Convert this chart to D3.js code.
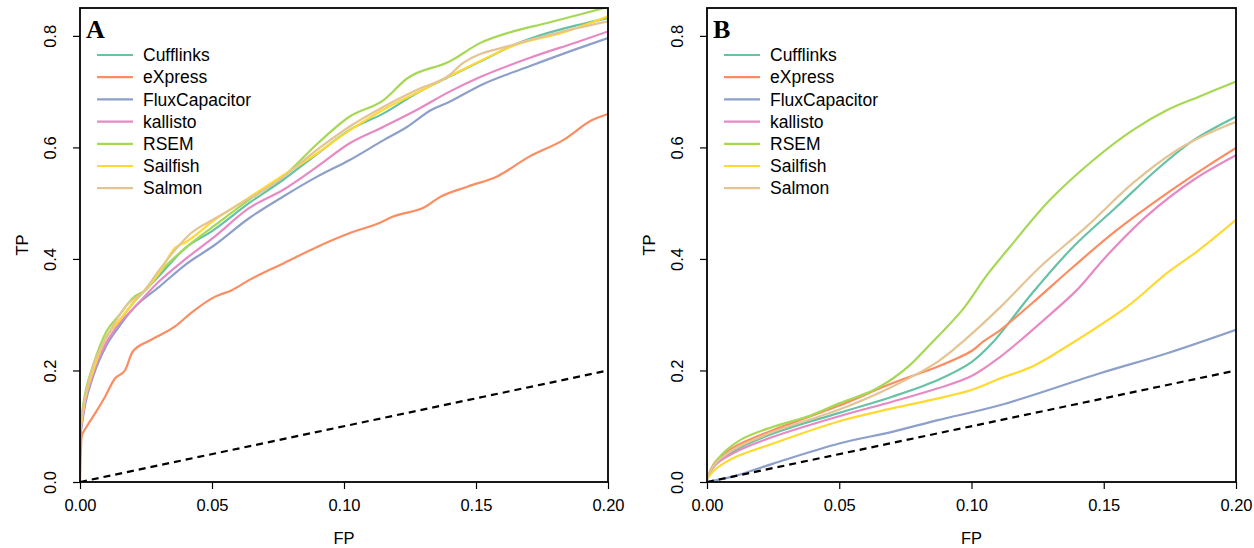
<!DOCTYPE html>
<html><head><meta charset="utf-8">
<script src="https://cdn.jsdelivr.net/npm/d3@7"></script>
<style>
body{margin:0;background:#fff;}
svg{display:block;font-family:"Liberation Sans",Arial,Helvetica,sans-serif;}
</style></head>
<body><svg id="chart" width="1254" height="548"></svg>
<script>
const methods = ["Cufflinks","eXpress","FluxCapacitor","kallisto","RSEM","Sailfish","Salmon"];
const colors = ["#66C2A5","#FC8D62","#8DA0CB","#E78AC3","#A6D854","#FFD92F","#E5C494"];
const xTicks = [0,0.05,0.10,0.15,0.20];
const yTicks = [0,0.2,0.4,0.6,0.8];
const panelLabels = ["A","B"];

// Panel A ROC points [FP, TP]
const cufflinksA = [[0,0.09],[0.002,0.15],[0.005,0.2],[0.01,0.26],[0.015,0.29],[0.02,0.32],[0.03,0.37],[0.04,0.42],[0.05,0.45],[0.064,0.5],[0.077,0.542],[0.09,0.589],[0.102,0.631],[0.115,0.661],[0.1275,0.697],[0.14,0.727],[0.152,0.755],[0.165,0.785],[0.177,0.805],[0.189,0.82],[0.2,0.832]];
const expressA = [[0,0],[0.0006,0.081],[0.0025,0.099],[0.0057,0.123],[0.0095,0.153],[0.0133,0.186],[0.017,0.2],[0.02,0.234],[0.027,0.255],[0.036,0.279],[0.042,0.303],[0.051,0.332],[0.0575,0.344],[0.064,0.362],[0.077,0.392],[0.09,0.422],[0.102,0.446],[0.1136,0.465],[0.1186,0.476],[0.131,0.494],[0.136,0.51],[0.147,0.53],[0.158,0.548],[0.17,0.583],[0.183,0.613],[0.194,0.649],[0.2,0.66]];
const fluxA = [[0,0.08],[0.002,0.14],[0.005,0.19],[0.01,0.245],[0.015,0.28],[0.02,0.31],[0.03,0.35],[0.04,0.39],[0.051,0.425],[0.064,0.473],[0.077,0.512],[0.09,0.548],[0.102,0.577],[0.115,0.613],[0.124,0.637],[0.133,0.667],[0.14,0.682],[0.152,0.712],[0.17,0.745],[0.189,0.778],[0.2,0.796]];
const kallistoA = [[0,0.085],[0.002,0.145],[0.005,0.195],[0.01,0.25],[0.015,0.285],[0.02,0.31],[0.03,0.36],[0.04,0.4],[0.051,0.44],[0.064,0.491],[0.077,0.524],[0.09,0.566],[0.102,0.607],[0.115,0.637],[0.1275,0.667],[0.14,0.7],[0.152,0.727],[0.17,0.76],[0.189,0.79],[0.2,0.808]];
const rsemA = [[0,0.1],[0.002,0.16],[0.005,0.21],[0.01,0.27],[0.015,0.3],[0.02,0.33],[0.025,0.345],[0.03,0.375],[0.04,0.42],[0.051,0.46],[0.064,0.506],[0.077,0.548],[0.09,0.607],[0.102,0.655],[0.115,0.685],[0.124,0.724],[0.14,0.754],[0.1515,0.787],[0.164,0.808],[0.177,0.823],[0.189,0.838],[0.2,0.852]];
const sailfishA = [[0,0.09],[0.002,0.15],[0.005,0.2],[0.01,0.26],[0.015,0.29],[0.02,0.32],[0.03,0.375],[0.036,0.42],[0.04,0.43],[0.051,0.47],[0.064,0.51],[0.077,0.55],[0.09,0.59],[0.102,0.63],[0.115,0.668],[0.1275,0.698],[0.14,0.728],[0.152,0.756],[0.164,0.782],[0.183,0.806],[0.2,0.835]];
const salmonA = [[0,0.1],[0.002,0.153],[0.0044,0.2],[0.0069,0.231],[0.0107,0.265],[0.0145,0.296],[0.0183,0.32],[0.0234,0.338],[0.03,0.38],[0.036,0.416],[0.042,0.446],[0.051,0.472],[0.061,0.5],[0.075,0.54],[0.0896,0.595],[0.102,0.637],[0.115,0.673],[0.1275,0.703],[0.14,0.73],[0.145,0.751],[0.164,0.784],[0.183,0.808],[0.2,0.826]];

// Panel B ROC points [FP, TP]
const cufflinksB = [[0,0.005],[0.003,0.03],[0.01,0.055],[0.025,0.087],[0.05,0.124],[0.07,0.153],[0.0873,0.183],[0.1,0.215],[0.108,0.25],[0.123,0.339],[0.1385,0.422],[0.155,0.494],[0.17,0.56],[0.184,0.613],[0.2,0.655]];
const expressB = [[0,0.005],[0.003,0.035],[0.01,0.062],[0.025,0.093],[0.05,0.137],[0.07,0.177],[0.0873,0.207],[0.1,0.235],[0.1045,0.252],[0.111,0.273],[0.123,0.321],[0.1385,0.386],[0.155,0.452],[0.174,0.518],[0.189,0.566],[0.2,0.599]];
const fluxB = [[0,0],[0.01,0.01],[0.025,0.033],[0.05,0.069],[0.07,0.09],[0.0873,0.111],[0.111,0.138],[0.1486,0.195],[0.174,0.231],[0.2,0.273]];
const kallistoB = [[0,0.005],[0.003,0.03],[0.01,0.052],[0.025,0.081],[0.05,0.118],[0.07,0.144],[0.0873,0.168],[0.1,0.19],[0.111,0.225],[0.118,0.252],[0.126,0.285],[0.14,0.345],[0.151,0.405],[0.166,0.476],[0.184,0.542],[0.2,0.586]];
const rsemB = [[0,0.005],[0.0037,0.039],[0.0125,0.075],[0.025,0.099],[0.0377,0.117],[0.05,0.141],[0.063,0.165],[0.0704,0.186],[0.0768,0.21],[0.083,0.24],[0.0968,0.31],[0.1057,0.37],[0.1146,0.422],[0.1297,0.506],[0.146,0.577],[0.161,0.631],[0.174,0.667],[0.186,0.691],[0.2,0.718]];
const sailfishB = [[0,0.005],[0.003,0.022],[0.01,0.043],[0.025,0.069],[0.05,0.109],[0.07,0.132],[0.0873,0.15],[0.1,0.165],[0.111,0.186],[0.123,0.207],[0.136,0.243],[0.1587,0.314],[0.174,0.375],[0.186,0.416],[0.2,0.47]];
const salmonB = [[0,0.005],[0.003,0.032],[0.01,0.058],[0.025,0.09],[0.05,0.13],[0.07,0.171],[0.0873,0.216],[0.0975,0.255],[0.111,0.314],[0.126,0.386],[0.1435,0.458],[0.161,0.536],[0.1776,0.595],[0.19,0.626],[0.2,0.646]];

const diagonal = [[0,0],[0.2,0.2]];

const panels = [
  {label:panelLabels[0], series:[cufflinksA,expressA,fluxA,kallistoA,rsemA,sailfishA,salmonA], left:80, right:608, curve:d3.curveMonotoneX},
  {label:panelLabels[1], series:[cufflinksB,expressB,fluxB,kallistoB,rsemB,sailfishB,salmonB], left:707, right:1236, curve:d3.curveCatmullRom.alpha(0.5)}
];

const svg = d3.select("#chart");
const plotTop = 8, plotBottom = 482;

panels.forEach((p, pi) => {
  const x = d3.scaleLinear().domain([0,0.2]).range([p.left, p.right]);
  const y = d3.scaleLinear().domain([0,0.85]).range([plotBottom, plotTop]);
  const g = svg.append("g");
  const clipId = "clip" + pi;
  svg.append("clipPath").attr("id", clipId).append("rect")
    .attr("x", p.left).attr("y", plotTop).attr("width", p.right - p.left).attr("height", plotBottom - plotTop);

  const line = d3.line().x(d => x(d[0])).y(d => y(d[1])).curve(p.curve);
  const lines = g.append("g").attr("clip-path", `url(#${clipId})`);
  p.series.forEach((s, i) => {
    lines.append("path").attr("d", line(s)).attr("fill","none")
      .attr("stroke", colors[i]).attr("stroke-width", 2.2).attr("stroke-linejoin","round");
  });
  lines.append("path").attr("d", d3.line().x(d=>x(d[0])).y(d=>y(d[1]))(diagonal))
    .attr("fill","none").attr("stroke","#000").attr("stroke-width",2.2).attr("stroke-dasharray","7,5");

  // box
  g.append("rect").attr("x", p.left).attr("y", plotTop).attr("width", p.right-p.left).attr("height", plotBottom-plotTop)
    .attr("fill","none").attr("stroke","#000").attr("stroke-width",1.8);

  // axes
  const xa = g.append("g").attr("transform", `translate(0,${plotBottom})`)
    .call(d3.axisBottom(x).tickValues(xTicks).tickSize(7).tickFormat(d3.format(".2f")));
  xa.select(".domain").remove();
  xa.selectAll("line").attr("stroke-width",1.2);
  xa.selectAll("text").attr("y",17).attr("font-size",16.5).attr("fill","#000").attr("font-family","Liberation Sans, Arial, sans-serif");

  const ya = g.append("g").attr("transform", `translate(${p.left},0)`)
    .call(d3.axisLeft(y).tickValues(yTicks).tickSize(7).tickFormat(d3.format(".1f")));
  ya.select(".domain").remove();
  ya.selectAll("line").attr("stroke-width",1.2);
  ya.selectAll("text").attr("transform","rotate(-90)").attr("x",0).attr("y",-24).attr("dy","0")
    .attr("text-anchor","middle").attr("font-size",16.5).attr("fill","#000").attr("font-family","Liberation Sans, Arial, sans-serif");

  // axis titles
  g.append("text").attr("x", (p.left+p.right)/2).attr("y", 544).attr("text-anchor","middle")
    .attr("font-size",16.5).text("FP");
  g.append("text").attr("transform", `translate(${p.left-52},${(plotTop+plotBottom)/2}) rotate(-90)`)
    .attr("text-anchor","middle").attr("font-size",16.5).text("TP");

  // panel label
  g.append("text").attr("x", p.left+6).attr("y", 38).attr("font-family","Liberation Serif, Times New Roman, serif")
    .attr("font-weight","bold").attr("font-size",26).text(p.label);

  // legend
  const lg = g.append("g").attr("transform", `translate(${p.left+17},55)`);
  methods.forEach((m, i) => {
    const row = lg.append("g").attr("transform", `translate(0,${i*22.2})`);
    row.append("line").attr("x1",0).attr("x2",36).attr("y1",0).attr("y2",0)
      .attr("stroke", colors[i]).attr("stroke-width",2.2);
    row.append("text").attr("x",46).attr("y",0).attr("dy","0.35em").attr("font-size",17.5).text(m);
  });
});
</script></body></html>
